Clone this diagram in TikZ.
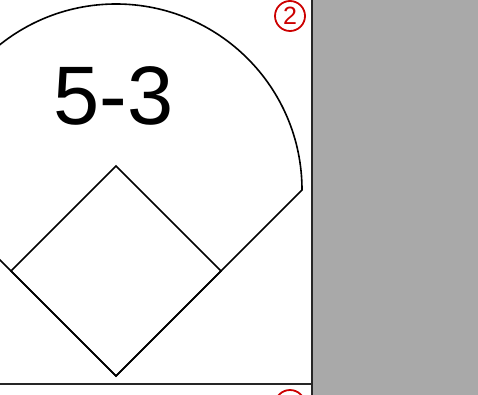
\documentclass[tikz,border=0pt]{standalone}
\usepackage{fontspec}
\setmainfont{Liberation Sans}
\definecolor{panelgray}{RGB}{169,169,169}
\definecolor{markred}{RGB}{204,0,0}
\tikzset{
  field/.style={line width=1.6pt, black, line join=miter},
  frame/.style={line width=1.8pt, black!85},
  circmark/.style={circle, draw=markred, line width=1.8pt, minimum size=30pt,
    inner sep=0pt, text=markred, font=\fontsize{25}{25}\selectfont}
}
\begin{document}
\begin{tikzpicture}[x=1pt, y=-1pt]
    % 1. Vùng hiển thị
    \useasboundingbox (0,0) rectangle (478,395);
    \clip (0,0) rectangle (478,395);

    % 2. Nền xám bên phải và khung
    \fill[panelgray] (312,0) rectangle (478,395);
    \draw[frame] (312,0) -- (312,395);
    \draw[frame] (0,384) -- (312,384);

    % 3. Các điểm gốc
    \coordinate (home) at (116,376);
    \coordinate (first) at (221,271);
    \coordinate (second) at (116,166);
    \coordinate (third) at (11,271);
    \coordinate (rightpole) at (302,190);

    % 4. Sân ngoài (vạch biên + cung)
    \draw[field] (home) -- (rightpole)
        arc[start angle=0, end angle=-180, radius=186] -- cycle;

    % 5. Sân trong
    \draw[field] (home) -- (first) -- (second) -- (third) -- cycle;

    % 6. Tỉ số
    \node[inner sep=0pt, font=\fontsize{83}{83}\selectfont] (score) at (113.5,96) {5-3};

    % 7. Số khoanh tròn
    \node[circmark] (mark) at (290,16) {2};
    \draw[markred, line width=1.8pt] (290,405) circle (15);
\end{tikzpicture}
\end{document}
